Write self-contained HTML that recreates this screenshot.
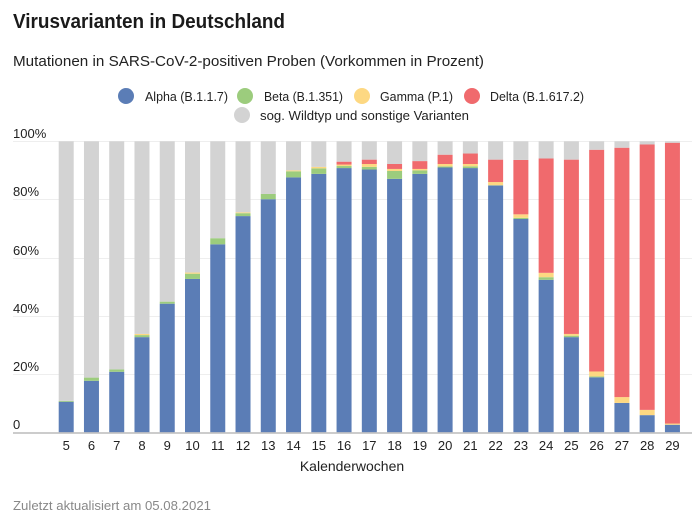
<!DOCTYPE html>
<html><head><meta charset="utf-8"><style>
html,body{margin:0;padding:0;background:#fff;}
svg{display:block;font-family:"Liberation Sans",sans-serif;}
</style></head><body>
<svg width="700" height="516" viewBox="0 0 700 516" xmlns="http://www.w3.org/2000/svg">
<text x="13" y="28" font-size="20" font-weight="bold" fill="#1a1a1a" textLength="272" lengthAdjust="spacingAndGlyphs">Virusvarianten in Deutschland</text>
<text x="13" y="66" font-size="15" fill="#222" textLength="471" lengthAdjust="spacingAndGlyphs">Mutationen in SARS-CoV-2-positiven Proben (Vorkommen in Prozent)</text>
<g font-size="13" fill="#222">
<circle cx="126" cy="96" r="8" fill="#5b7db6"/><text x="145" y="101" textLength="83" lengthAdjust="spacingAndGlyphs">Alpha (B.1.1.7)</text>
<circle cx="245" cy="96" r="8" fill="#9ccc7d"/><text x="264" y="101" textLength="79" lengthAdjust="spacingAndGlyphs">Beta (B.1.351)</text>
<circle cx="362" cy="96" r="8" fill="#fdd882"/><text x="380" y="101" textLength="73" lengthAdjust="spacingAndGlyphs">Gamma (P.1)</text>
<circle cx="472" cy="96" r="8" fill="#f06a6d"/><text x="490" y="101" textLength="94" lengthAdjust="spacingAndGlyphs">Delta (B.1.617.2)</text>
<circle cx="242" cy="115" r="8" fill="#d3d3d3"/><text x="260" y="120" textLength="209" lengthAdjust="spacingAndGlyphs">sog. Wildtyp und sonstige Varianten</text>
</g>
<g stroke="#eee" stroke-width="1">
<line x1="13" y1="141.5" x2="692" y2="141.5"/>
<line x1="13" y1="199.5" x2="692" y2="199.5"/>
<line x1="13" y1="258.5" x2="692" y2="258.5"/>
<line x1="13" y1="316.5" x2="692" y2="316.5"/>
<line x1="13" y1="374.5" x2="692" y2="374.5"/>
</g>
<g font-size="13" fill="#222">
<text x="13" y="138">100%</text>
<text x="13" y="196">80%</text>
<text x="13" y="255">60%</text>
<text x="13" y="313">40%</text>
<text x="13" y="371">20%</text>
<text x="13" y="429">0</text>
</g>
<g id="bars"></g>
<line x1="13" y1="433" x2="692" y2="433" stroke="#bbb" stroke-width="1.5"/>
<g id="ticks" font-size="13" fill="#222" text-anchor="middle"></g>
<text x="352" y="471" font-size="14" fill="#222" text-anchor="middle">Kalenderwochen</text>
<text x="13" y="510" font-size="13" fill="#888" textLength="198" lengthAdjust="spacingAndGlyphs">Zuletzt aktualisiert am 05.08.2021</text>
<script>
var d=[[10.5,10.8,10.8,10.8],[17.7,18.8,18.8,18.8],[20.8,21.6,21.6,21.6],[32.7,33.4,33.8,33.8],[44.2,44.9,44.9,44.9],[52.7,54.5,54.9,54.9],[64.6,66.7,66.7,66.7],[74.3,75.3,75.6,75.6],[80.1,81.9,81.9,81.9],[87.6,89.7,90,90],[88.8,90.7,91.2,91.2],[90.8,91.5,92,93],[90.3,91.2,92.2,93.7],[87.1,89.8,90.5,92.2],[88.8,90,90.5,93.2],[91,91.4,92.2,95.4],[90.8,91.4,92.2,95.8],[84.8,84.9,86,93.7],[73.3,73.7,74.9,93.6],[52.4,53.3,54.8,94.1],[32.7,33.2,33.8,93.7],[18.9,19.2,20.9,97.1],[10.1,10.1,12.1,97.8],[5.9,5.9,7.7,98.9],[2.6,2.6,3,99.5]];
var cols=["#5b7db6","#9ccc7d","#fdd882","#f06a6d","#d3d3d3"];
var ns="http://www.w3.org/2000/svg",g=document.getElementById("bars"),t=document.getElementById("ticks");
function y(p){return 432.3-p*2.91;}
d.forEach(function(r,i){var x=58.7+i*25.26;var prev=0;var v=r.concat([100]);
v.forEach(function(c,k){if(c-prev>0.01){var e=document.createElementNS(ns,"rect");e.setAttribute("x",x);e.setAttribute("width",15);e.setAttribute("y",y(c));e.setAttribute("height",y(prev)-y(c));e.setAttribute("fill",cols[k]);g.appendChild(e);}prev=Math.max(prev,c);});
var tx=document.createElementNS(ns,"text");tx.setAttribute("x",x+7.5);tx.setAttribute("y",450);tx.textContent=i+5;t.appendChild(tx);});
</script>
</svg>
</body></html>
